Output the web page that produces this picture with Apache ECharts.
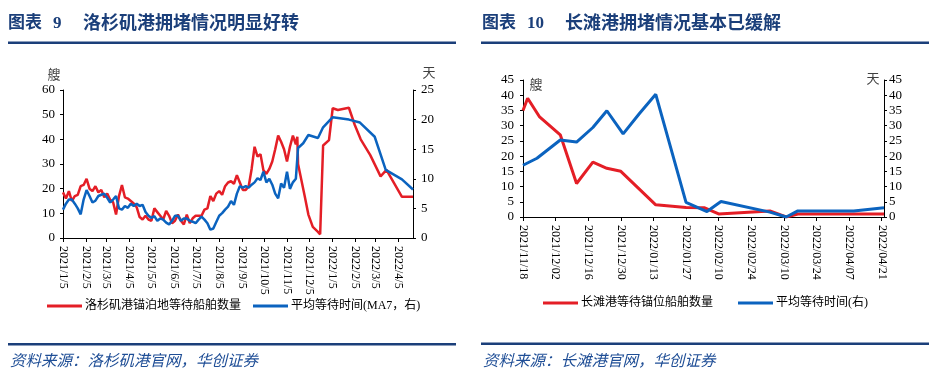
<!DOCTYPE html>
<html><head><meta charset="utf-8">
<script src="https://cdn.jsdelivr.net/npm/echarts@6/dist/echarts.min.js"></script>
<style>html,body{margin:0;padding:0;background:#fff;}#c{width:937px;height:380px;}</style>
</head><body><div id="c"></div>
<script>
// ================= Chart 9: Los Angeles =================
const laStart = '2021/1/5';
const laEnd = '2022/4/25';
const laStepDays = 4; // dense section sampled every 4 days from laStart
const laTickLabels = ['2021/1/5','2021/2/5','2021/3/5','2021/4/5','2021/5/5','2021/6/5','2021/7/5','2021/8/5',
  '2021/9/5','2021/10/5','2021/11/5','2021/12/5','2022/1/5','2022/2/5','2022/3/5','2022/4/5'];
const laShipsDense = [18.5,16,19,15,17,17.5,21,21.5,24,20, 19,21,18.5,19.5,16.5,18,15.5,14.5,9.5,17,
  21.5,16.5,16,15,14,12.5,8.5,7.5,9,7.5, 7,12,10.5,9,7.5,11,9,6,7,9.5,
  7,5.5,9.5,6,8,9,9,9,11.5,12, 17,15,18,19,17.5,21,22.5,23,22,25.5,
  22.5,19.5,19.5,21,28,37,33,34,27.5,26, 28,31,36,41.5,39,36,31,37,41.5,38];
const laShipsSparse = [['2021/11/19',41],['2021/11/20',30],['2021/11/29',17],['2021/12/4',9.5],['2021/12/10',4.5],
  ['2021/12/17',2.5],['2021/12/20',1.5],['2021/12/24',37.5],['2022/1/1',39.7],['2022/1/6',52.6],['2022/1/13',51.9],
  ['2022/1/28',52.8],['2022/2/5',45.8],['2022/2/13',40],['2022/2/26',33.6],['2022/3/12',25],['2022/3/20',27.6],
  ['2022/4/10',16.7],['2022/4/25',16.7]];
const laWaitDense = [4.8,5.8,6.5,6.5,5.8,5.0,4.0,6.5,8.1,7.1, 6.0,6.3,7.1,7.3,7.5,6.8,6.0,6.5,7.1,5.0,
  4.8,5.4,5.1,5.8,5.4,5.8,5.4,5.6,4.4,3.75, 3.4,3.7,2.9,3.3,3.1,2.6,2.3,2.9,3.75,3.75,
  2.9,3.3,3.3,2.9,2.75,2.5,3.1,3.6,3.1,2.5, 1.4,1.6,2.7,3.75,4.2,4.8,5.3,6.25,5.6,7.5,
  8.75,8.5,8.75,8.5,9.0,9.4,10.1,9.8,11.2,9.4, 10.0,9.0,7.5,6.7,9.2,8.5,11.2,8.3,9.4,10.0];
const laWaitSparse = [['2021/11/19',10],['2021/11/20',15.2],['2021/11/27',16],['2021/12/4',17.4],['2021/12/17',16.9],
  ['2021/12/24',18.7],['2022/1/6',20.4],['2022/1/28',20.0],['2022/2/12',19.5],['2022/3/4',17.1],['2022/3/19',11.5],
  ['2022/4/10',9.9],['2022/4/25',8.2]];

// ================= Chart 10: Long Beach =================
const lbStart = '2021/11/18';
const lbEnd = '2022/04/22';
const lbTickLabels = ['2021/11/18','2021/12/02','2021/12/16','2021/12/30','2022/01/13','2022/01/27',
  '2022/02/10','2022/02/24','2022/03/10','2022/03/24','2022/04/07','2022/04/21'];
const lbShips = [['2021/11/18',35],['2021/11/20',39],['2021/11/25',33],['2021/12/04',27],['2021/12/11',11],
  ['2021/12/18',18],['2021/12/24',16],['2021/12/30',15],['2022/01/14',4],['2022/01/27',3.1],['2022/02/04',3],
  ['2022/02/10',1],['2022/03/04',2],['2022/03/11',0],['2022/03/16',1],['2022/04/22',1]];
const lbWait = [['2021/11/18',17],['2021/11/24',19.3],['2021/12/04',25.3],['2021/12/11',24.6],['2021/12/18',29.4],
  ['2021/12/24',34.9],['2021/12/31',27.3],['2022/01/07',34],['2022/01/14',40.3],['2022/01/27',4.8],
  ['2022/02/05',1.8],['2022/02/11',5.1],['2022/03/04',1.6],['2022/03/11',0],['2022/03/16',2],['2022/04/09',2],
  ['2022/04/22',3]];

const RED = '#E41E26', BLUE = '#0B63BF', NAVY = '#1B3F7A';
const SERIF = '"Liberation Serif","Noto Sans CJK SC",serif';

function parse(s){ const p = s.split('/').map(Number); return new Date(p[0], p[1]-1, p[2]); }
function fmt(d, pad){ const m = d.getMonth()+1, dd = d.getDate();
  return pad ? d.getFullYear()+'/'+String(m).padStart(2,'0')+'/'+String(dd).padStart(2,'0') : d.getFullYear()+'/'+m+'/'+dd; }
function days(start, end, pad){ const out = []; const d = parse(start), e = parse(end);
  while (d <= e){ out.push(fmt(d, pad)); d.setDate(d.getDate()+1); } return out; }
function dense(start, step, vals){ const d0 = parse(start);
  return vals.map((v,i)=>{ const d = new Date(d0); d.setDate(d.getDate()+i*step); return [fmt(d,false), v]; }); }

const laDates = days(laStart, laEnd, false);
const lbDates = days(lbStart, lbEnd, true);

const axisLineStyle = {show:true, lineStyle:{color:'#000', width:1}};
function xAxisCfg(grid, data, ticks, margin){
  const f = (i, v) => ticks.includes(v);
  return {type:'category', gridIndex:grid, data, boundaryGap:false,
    axisLine:axisLineStyle, axisTick:{show:true, interval:f, length:4, lineStyle:{color:'#000'}},
    axisLabel:{interval:f, rotate:-90, margin, fontSize:12, fontFamily:SERIF, color:'#000'},
    splitLine:{show:false}};
}
function yAxisCfg(grid, pos, max, interval, margin){
  return {type:'value', gridIndex:grid, position:pos, min:0, max, interval,
    axisLine:axisLineStyle, axisTick:{show:true, length:3, inside:false, lineStyle:{color:'#000'}},
    axisLabel:{margin, fontSize:13, fontFamily:SERIF, color:'#000'}, splitLine:{show:false}};
}
function line(name, x, y, data, color, w){
  return {name, type:'line', xAxisIndex:x, yAxisIndex:y, data, symbol:'none', showSymbol:false,
    lineStyle:{color, width:w}, itemStyle:{color}, animation:false};
}
function txt(x, y, text, font, fill, align){
  return {type:'text', x, y, style:{text, font, fill, textAlign:align||'left', textVerticalAlign:'middle'}};
}
function rule(x, y, w){ return {type:'rect', shape:{x, y, width:w, height:2.5}, style:{fill:NAVY}}; }

const titleFont = 'bold 17px ' + SERIF;
const titleFontMain = 'bold 18px ' + SERIF;
const srcFont = 'italic 15.5px ' + SERIF;
const unitFont = '13px "Noto Sans CJK SC",sans-serif';

const chart = echarts.init(document.getElementById('c'), null, {renderer:'canvas'});
chart.setOption({
  animation:false,
  backgroundColor:'#fff',
  grid:[
    {left:63, top:90, width:350, height:148, outerBoundsMode:'none'},
    {left:523, top:80, width:361, height:137, outerBoundsMode:'none'}
  ],
  xAxis:[ xAxisCfg(0, laDates, laTickLabels, 8), xAxisCfg(1, lbDates, lbTickLabels, 8) ],
  yAxis:[ yAxisCfg(0,'left',60,10,8), yAxisCfg(0,'right',25,5,8), yAxisCfg(1,'left',45,5,9), yAxisCfg(1,'right',45,5,5) ],
  legend:[
    {left:47, top:300, padding:0, itemWidth:35, itemHeight:3, itemGap:12, icon:'rect',
     data:['洛杉矶港锚泊地等待船舶数量','平均等待时间(MA7，右)'],
     textStyle:{fontSize:12, fontFamily:SERIF, color:'#000', padding:[0,0,0,-2]}},
    {left:543, top:297, padding:0, itemWidth:35, itemHeight:3, itemGap:25, icon:'rect',
     data:['长滩港等待锚位船舶数量','平均等待时间(右)'],
     textStyle:{fontSize:12, fontFamily:SERIF, color:'#000', padding:[0,0,0,-2]}}
  ],
  series:[
    line('洛杉矶港锚泊地等待船舶数量', 0, 0, dense(laStart, laStepDays, laShipsDense).concat(laShipsSparse), RED, 2.5),
    line('平均等待时间(MA7，右)', 0, 1, dense(laStart, laStepDays, laWaitDense).concat(laWaitSparse), BLUE, 2.5),
    line('长滩港等待锚位船舶数量', 1, 2, lbShips, RED, 3),
    line('平均等待时间(右)', 1, 3, lbWait, BLUE, 3)
  ],
  graphic:[
    txt(8, 24, '图表', titleFont, NAVY), txt(53, 24, '9', titleFont, NAVY), txt(83, 24, '洛杉矶港拥堵情况明显好转', titleFontMain, NAVY),
    txt(482, 24, '图表', titleFont, NAVY), txt(527, 24, '10', titleFont, NAVY), txt(565, 24, '长滩港拥堵情况基本已缓解', titleFontMain, NAVY),
    rule(8, 41.5, 448), rule(481, 41.5, 448), rule(8, 343, 448), rule(481, 342.5, 448),
    txt(54, 74, '艘', unitFont, '#404040', 'center'), txt(429, 72, '天', unitFont, '#404040', 'center'),
    txt(536, 84, '艘', unitFont, '#404040', 'center'), txt(873, 78, '天', unitFont, '#404040', 'center'),
    txt(10, 362, '资料来源：洛杉矶港官网，华创证券', srcFont, '#1F4E96'),
    txt(483, 362, '资料来源：长滩港官网，华创证券', srcFont, '#1F4E96')
  ]
});
</script></body></html>
